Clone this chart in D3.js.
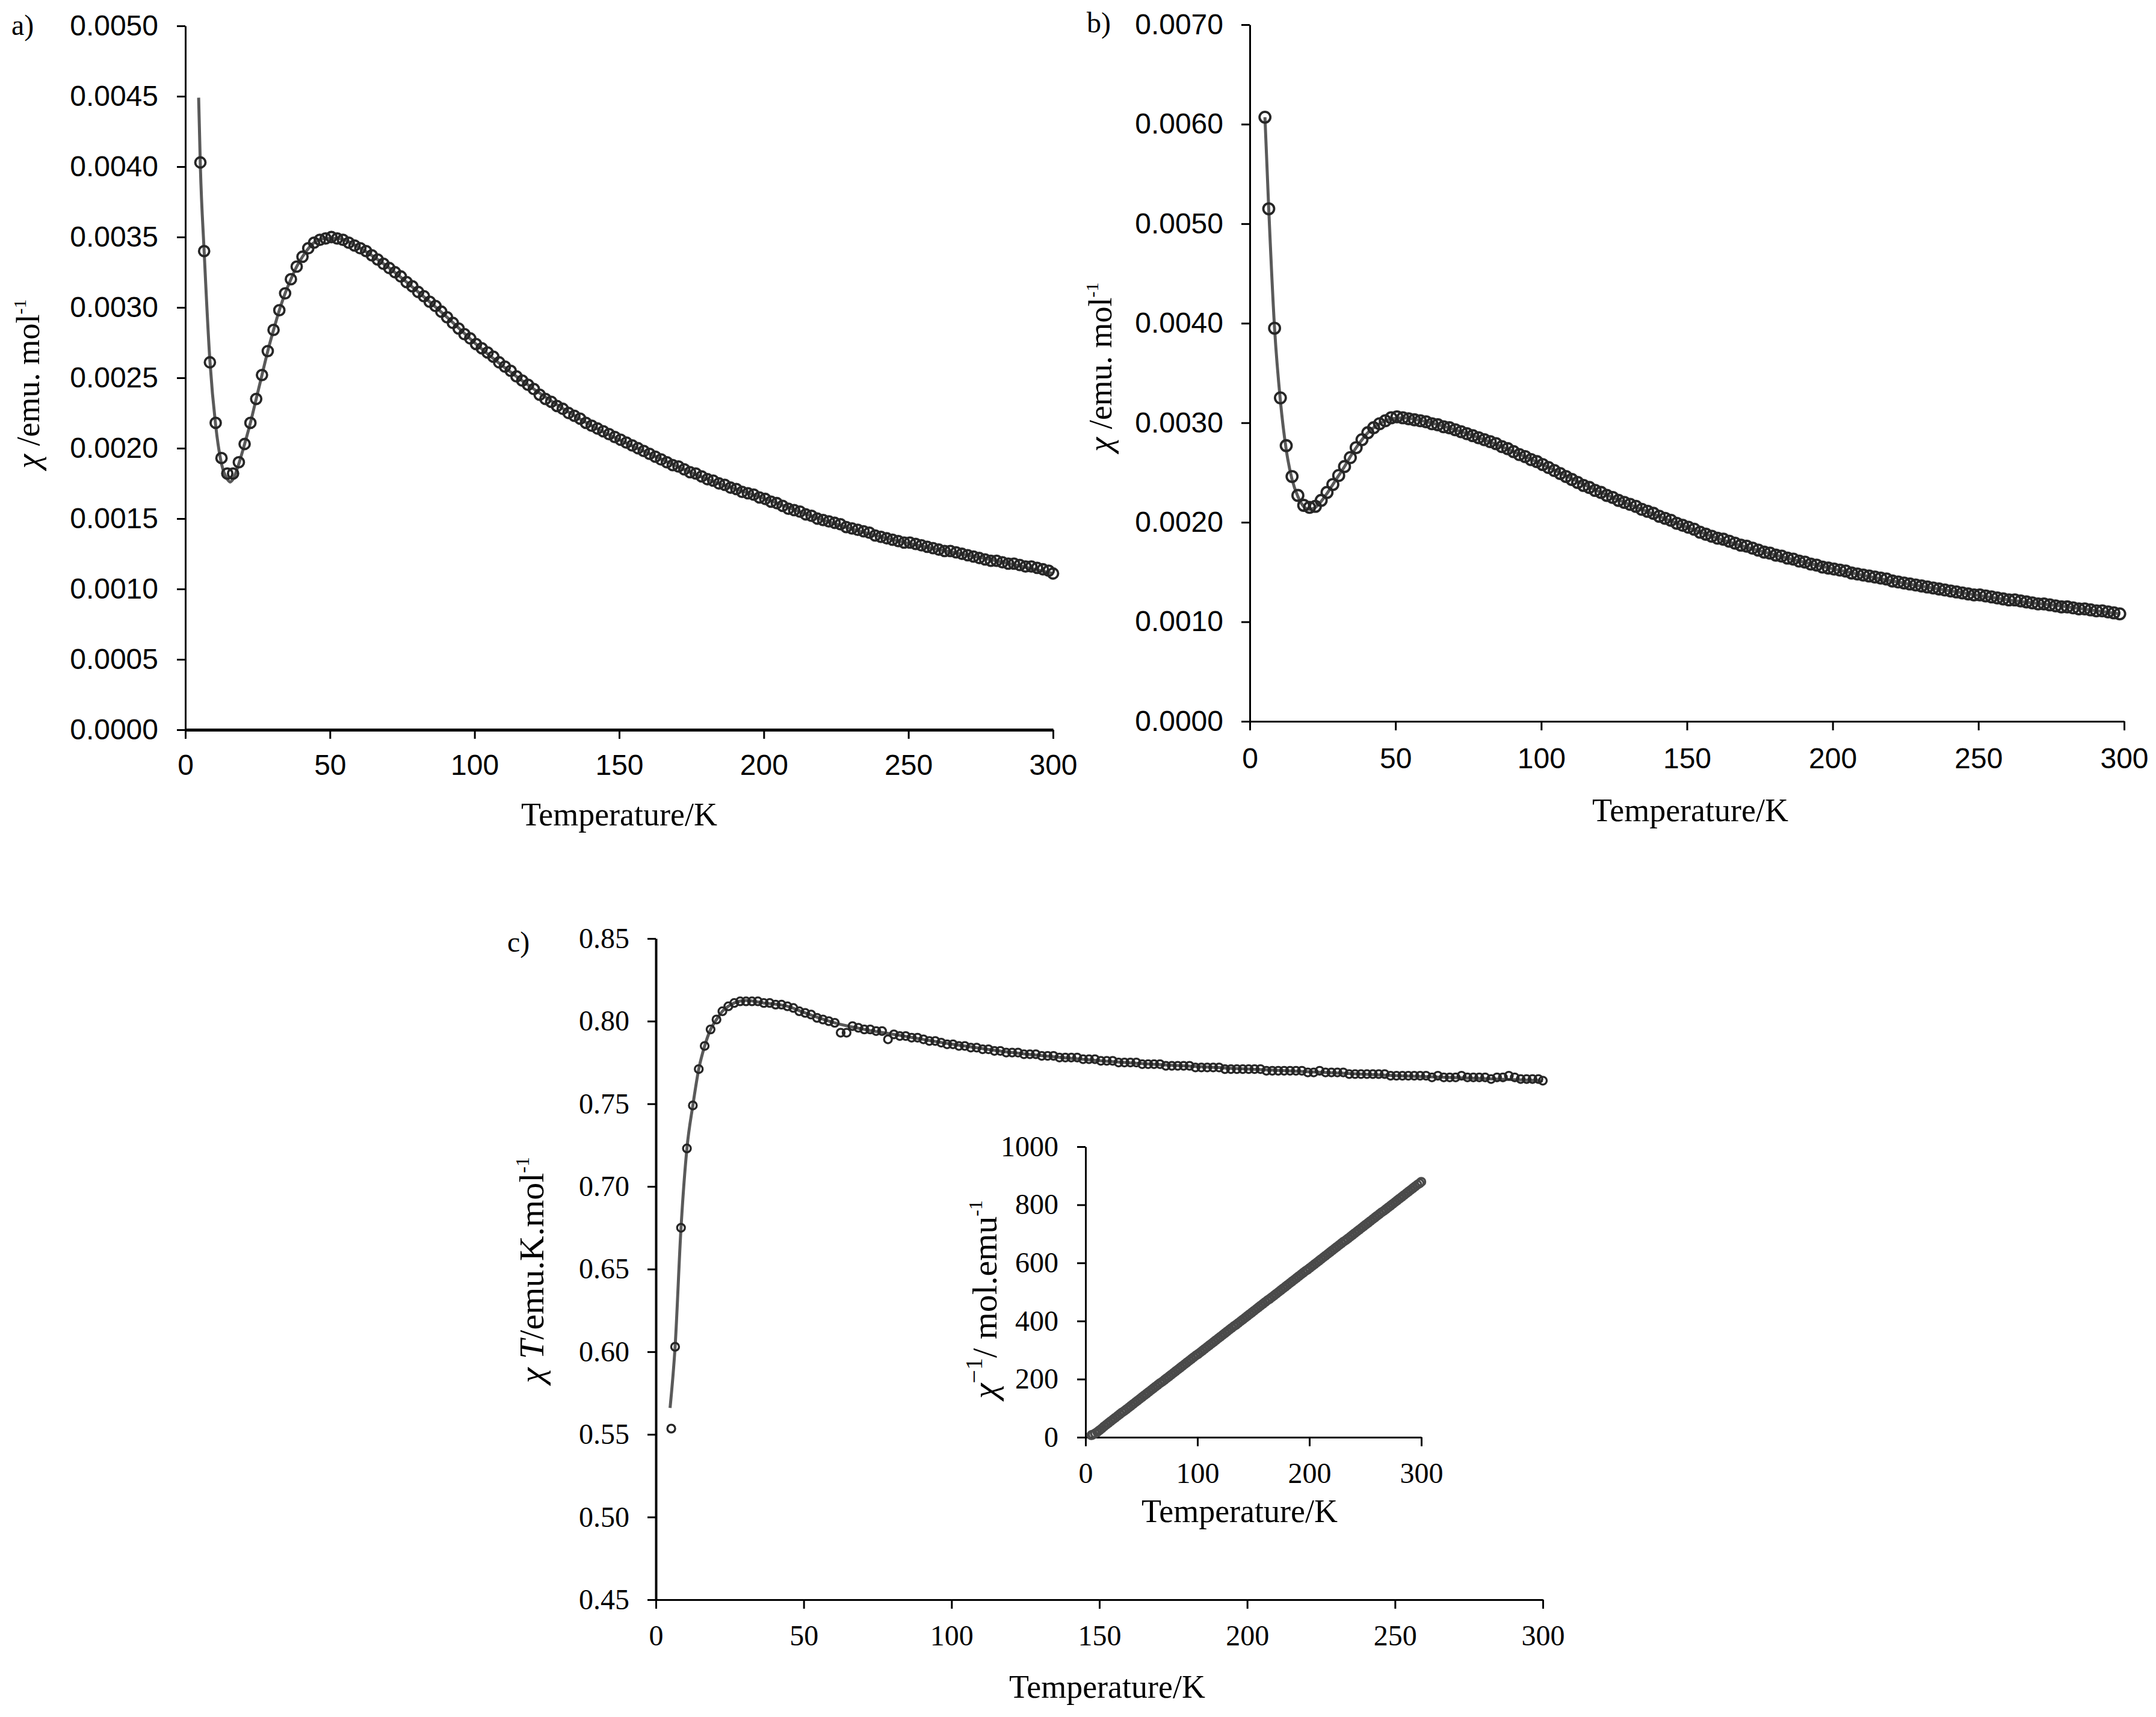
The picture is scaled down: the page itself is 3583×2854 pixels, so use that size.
<!DOCTYPE html>
<html>
<head>
<meta charset="utf-8">
<script src="https://cdn.jsdelivr.net/npm/d3@7"></script>
<style>
  html, body { margin: 0; padding: 0; background: #fff; }
  svg { display: block; }
</style>
</head>
<body>
<div id="chart"></div>
<script>
// measured temperatures (K), shared by all panels
var temps = [
  5.2, 6.5, 8.5, 10.5, 12.5, 14.5, 16.5, 18.5, 20.5, 22.5,
  24.5, 26.5, 28.5, 30.5, 32.5, 34.5, 36.5, 38.5, 40.5, 42.5,
  44.5, 46.5, 48.5, 50.5, 52.5, 54.5, 56.5, 58.5, 60.5, 62.5,
  64.5, 66.5, 68.5, 70.5, 72.5, 74.5, 76.5, 78.5, 80.5, 82.5,
  84.5, 86.5, 88.5, 90.5, 92.5, 94.5, 96.5, 98.5, 100.5, 102.5,
  104.5, 106.5, 108.5, 110.5, 112.5, 114.5, 116.5, 118.5, 120.5, 122.5,
  124.5, 126.5, 128.5, 130.5, 132.5, 134.5, 136.5, 138.5, 140.5, 142.5,
  144.5, 146.5, 148.5, 150.5, 152.5, 154.5, 156.5, 158.5, 160.5, 162.5,
  164.5, 166.5, 168.5, 170.5, 172.5, 174.5, 176.5, 178.5, 180.5, 182.5,
  184.5, 186.5, 188.5, 190.5, 192.5, 194.5, 196.5, 198.5, 200.5, 202.5,
  204.5, 206.5, 208.5, 210.5, 212.5, 214.5, 216.5, 218.5, 220.5, 222.5,
  224.5, 226.5, 228.5, 230.5, 232.5, 234.5, 236.5, 238.5, 240.5, 242.5,
  244.5, 246.5, 248.5, 250.5, 252.5, 254.5, 256.5, 258.5, 260.5, 262.5,
  264.5, 266.5, 268.5, 270.5, 272.5, 274.5, 276.5, 278.5, 280.5, 282.5,
  284.5, 286.5, 288.5, 290.5, 292.5, 294.5, 296.5, 298.5, 300
];

// panel a: chi (emu/mol)
var chiA = [
  0.00403, 0.00340, 0.00261, 0.00218, 0.00193, 0.00182, 0.00182, 0.00190, 0.00203, 0.00218,
  0.00235, 0.00252, 0.00269, 0.00284, 0.00298, 0.00310, 0.00320, 0.00329, 0.00336, 0.00342,
  0.00346, 0.00348, 0.00349, 0.00350, 0.00349, 0.00348, 0.00346, 0.00344, 0.00342, 0.00340,
  0.00337, 0.00334, 0.00331, 0.00328, 0.00325, 0.00322, 0.00318, 0.00315, 0.00311, 0.00308,
  0.00304, 0.00301, 0.00297, 0.00293, 0.00289, 0.00285, 0.00281, 0.00278, 0.00274, 0.00271,
  0.00268, 0.00265, 0.00261, 0.00258, 0.00255, 0.00251, 0.00248, 0.00245, 0.00242, 0.00238,
  0.00235, 0.00233, 0.00230, 0.00228, 0.00225, 0.00223, 0.00221, 0.00218, 0.00216, 0.00214,
  0.00212, 0.00210, 0.00208, 0.00206, 0.00204, 0.00202, 0.00200, 0.00198, 0.00196, 0.00194,
  0.00192, 0.00190, 0.00188, 0.00187, 0.00185, 0.00183, 0.00182, 0.00180, 0.00178, 0.00177,
  0.00175, 0.00174, 0.00172, 0.00171, 0.00169, 0.00168, 0.00167, 0.00165, 0.00164, 0.00162,
  0.00161, 0.00159, 0.00157, 0.00156, 0.00155, 0.00153, 0.00152, 0.00150, 0.00149, 0.00148,
  0.00147, 0.00146, 0.00144, 0.00143, 0.00142, 0.00141, 0.00140, 0.00138, 0.00137, 0.00136,
  0.00135, 0.00134, 0.00133, 0.00133, 0.00132, 0.00131, 0.00130, 0.00129, 0.00128, 0.00127,
  0.00127, 0.00126, 0.00125, 0.00124, 0.00123, 0.00122, 0.00121, 0.00120, 0.00120, 0.00119,
  0.00118, 0.00118, 0.00117, 0.00116, 0.00116, 0.00115, 0.00114, 0.00113, 0.00111
];
var fitTA = [4.6, 5.2, 6.5, 8.5, 10.5, 12.5, 14.5, 15.5, 16.5, 18.5, 20.5, 22.5, 24.5, 26.5, 28.5,
  30.5, 32.5, 34.5, 36.5, 38.5, 40.5, 44.5, 48.5, 52.5, 60.5, 70.5, 80.5, 90.5, 100.5,
  120.5, 140.5, 160.5, 180.5, 200.5, 220.5, 240.5, 260.5, 280.5, 300];
var fitA = [0.00449, 0.00400, 0.00340, 0.00262, 0.00216, 0.00189, 0.00178, 0.00176, 0.00178, 0.00189,
  0.00203, 0.00218, 0.00235, 0.00252, 0.00269, 0.00284, 0.00298, 0.00310, 0.00320, 0.00329,
  0.00336, 0.00346, 0.00349, 0.00349, 0.00342, 0.00328, 0.00311, 0.00293, 0.00274,
  0.00242, 0.00216, 0.00196, 0.00178, 0.00164, 0.00149, 0.00137, 0.00128, 0.00120, 0.00111];
var ticksA = [0, 0.0005, 0.0010, 0.0015, 0.0020, 0.0025, 0.0030, 0.0035, 0.0040, 0.0045, 0.0050];

// panel b: chi (emu/mol), last point at 298.5 K
var chiB = [
  0.00607, 0.00515, 0.00395, 0.00325, 0.00277, 0.00246, 0.00227, 0.00217, 0.00215, 0.00216,
  0.00222, 0.00230, 0.00238, 0.00247, 0.00256, 0.00265, 0.00275, 0.00283, 0.00290, 0.00295,
  0.00299, 0.00302, 0.00305, 0.00306, 0.00305, 0.00304, 0.00303, 0.00302, 0.00301, 0.00299,
  0.00298, 0.00296, 0.00295, 0.00293, 0.00291, 0.00289, 0.00287, 0.00285, 0.00283, 0.00281,
  0.00279, 0.00276, 0.00274, 0.00271, 0.00268, 0.00266, 0.00263, 0.00261, 0.00258, 0.00255,
  0.00252, 0.00249, 0.00246, 0.00243, 0.00240, 0.00237, 0.00235, 0.00232, 0.00230, 0.00227,
  0.00225, 0.00222, 0.00220, 0.00218, 0.00216, 0.00213, 0.00211, 0.00209, 0.00206, 0.00204,
  0.00202, 0.00199, 0.00197, 0.00195, 0.00193, 0.00190, 0.00188, 0.00186, 0.00184, 0.00183,
  0.00181, 0.00179, 0.00177, 0.00176, 0.00174, 0.00172, 0.00170, 0.00169, 0.00167, 0.00166,
  0.00164, 0.00163, 0.00161, 0.00160, 0.00158, 0.00157, 0.00155, 0.00154, 0.00153, 0.00152,
  0.00151, 0.00149, 0.00148, 0.00147, 0.00146, 0.00145, 0.00144, 0.00143, 0.00141, 0.00140,
  0.00139, 0.00138, 0.00137, 0.00136, 0.00135, 0.00134, 0.00133, 0.00132, 0.00131, 0.00130,
  0.00129, 0.00128, 0.00127, 0.00127, 0.00126, 0.00125, 0.00124, 0.00123, 0.00122, 0.00122,
  0.00121, 0.00120, 0.00119, 0.00118, 0.00118, 0.00117, 0.00116, 0.00115, 0.00115, 0.00114,
  0.00113, 0.00113, 0.00112, 0.00111, 0.00111, 0.00110, 0.00109, 0.00108
];
var fitTB = [5.2, 6.5, 8.5, 10.5, 12.5, 14.5, 16.5, 18.5, 20.5, 22.5, 24.5, 26.5, 28.5, 30.5,
  32.5, 34.5, 36.5, 38.5, 40.5, 44.5, 48.5, 52.5, 60.5, 70.5, 80.5, 90.5, 100.5,
  120.5, 140.5, 160.5, 180.5, 200.5, 220.5, 240.5, 260.5, 280.5, 298.5];
var fitB = [0.00607, 0.00515, 0.00395, 0.00322, 0.00273, 0.00243, 0.00226, 0.00216, 0.00213, 0.00215,
  0.00221, 0.00229, 0.00238, 0.00247, 0.00256, 0.00266, 0.00275, 0.00283, 0.00290, 0.00299,
  0.00304, 0.00305, 0.00301, 0.00293, 0.00283, 0.00271, 0.00258,
  0.00230, 0.00206, 0.00184, 0.00167, 0.00153, 0.00141, 0.00131, 0.00122, 0.00115, 0.00108];
var ticksB = [0, 0.0010, 0.0020, 0.0030, 0.0040, 0.0050, 0.0060, 0.0070];

// panel c: chi*T (emu K/mol)
var chiTC = [
  0.5535, 0.603, 0.675, 0.723, 0.749, 0.771, 0.785, 0.795, 0.801, 0.806,
  0.809, 0.811, 0.812, 0.812, 0.812, 0.812, 0.811, 0.811, 0.810, 0.810,
  0.809, 0.808, 0.806, 0.805, 0.804, 0.802, 0.801, 0.800, 0.799, 0.793,
  0.793, 0.797, 0.796, 0.795, 0.795, 0.794, 0.794, 0.789, 0.792, 0.791,
  0.791, 0.790, 0.790, 0.789, 0.788, 0.788, 0.787, 0.786, 0.786, 0.785,
  0.785, 0.784, 0.784, 0.783, 0.783, 0.782, 0.782, 0.781, 0.781, 0.781,
  0.780, 0.780, 0.780, 0.779, 0.779, 0.779, 0.778, 0.778, 0.778, 0.778,
  0.777, 0.777, 0.777, 0.776, 0.776, 0.776, 0.775, 0.775, 0.775, 0.775,
  0.774, 0.774, 0.774, 0.774, 0.773, 0.773, 0.773, 0.773, 0.773, 0.772,
  0.772, 0.772, 0.772, 0.772, 0.771, 0.771, 0.771, 0.771, 0.771, 0.771,
  0.771, 0.770, 0.770, 0.770, 0.770, 0.770, 0.770, 0.770, 0.769, 0.769,
  0.770, 0.769, 0.769, 0.769, 0.769, 0.768, 0.768, 0.768, 0.768, 0.768,
  0.768, 0.768, 0.767, 0.767, 0.767, 0.767, 0.767, 0.767, 0.767, 0.766,
  0.767, 0.766, 0.766, 0.766, 0.767, 0.766, 0.766, 0.766, 0.766, 0.765,
  0.766, 0.766, 0.767, 0.766, 0.765, 0.765, 0.765, 0.765, 0.764
];
var fitTC = [4.8, 6.5, 8.5, 10.5, 12.5, 14.5, 16.5, 18.5, 20.5, 22.5, 24.5, 26.5, 30.5, 36.5,
  44.5, 50.5, 60.5, 70.5, 80.5, 100.5, 120.5, 150.5, 200.5, 250.5, 300];
var fitC = [0.566, 0.603, 0.675, 0.723, 0.749, 0.771, 0.785, 0.795, 0.801, 0.806, 0.809, 0.811,
  0.8125, 0.811, 0.809, 0.805, 0.799, 0.795, 0.792, 0.786, 0.781, 0.776, 0.771, 0.767, 0.764];
var ticksC = [0.45, 0.50, 0.55, 0.60, 0.65, 0.70, 0.75, 0.80, 0.85];

// inset: 1/chi (mol/emu)
var invChi = [
  7, 9, 13, 18, 24, 30, 37, 43, 49, 55,
  61, 67, 73, 79, 85, 90, 96, 102, 108, 114,
  120, 126, 132, 138, 144, 150, 156, 162, 168, 174,
  180, 186, 191, 197, 203, 209, 215, 221, 227, 233,
  239, 245, 251, 257, 263, 269, 275, 281, 286, 292,
  298, 304, 310, 316, 322, 328, 334, 340, 346, 352,
  358, 364, 370, 376, 382, 387, 393, 399, 405, 411,
  417, 423, 429, 435, 441, 447, 453, 459, 465, 471,
  476, 482, 488, 494, 500, 506, 512, 518, 524, 530,
  536, 542, 548, 554, 560, 566, 572, 577, 583, 589,
  595, 601, 607, 613, 619, 625, 631, 637, 643, 649,
  655, 661, 667, 673, 678, 684, 690, 696, 702, 708,
  714, 720, 726, 732, 738, 744, 750, 756, 762, 768,
  774, 779, 785, 791, 797, 803, 809, 815, 821, 827,
  833, 839, 845, 851, 857, 863, 869, 874, 879
];
var ticksInsetY = [0, 200, 400, 600, 800, 1000];
var ticksInsetX = [0, 100, 200, 300];
var ticksT = [0, 50, 100, 150, 200, 250, 300];

var SANS = "'Liberation Sans', Arial, sans-serif";
var SERIF = "'Liberation Serif', 'Times New Roman', serif";

var svg = d3.select("#chart").append("svg")
    .attr("width", 3583)
    .attr("height", 2854)
    .attr("viewBox", "0 0 3583 2854");

function pairs(xs, ys) {
    return ys.map(function(v, i) { return [xs[i], v]; });
}

// one panel: axes, fit line, open circles
function panel(p) {
    var x = d3.scaleLinear().domain([0, 300]).range(p.xr);
    var y = d3.scaleLinear().domain(p.yd).range(p.yr);
    var g = svg.append("g");

    var ya = g.append("g")
        .attr("transform", "translate(" + p.xr[0] + ",0)")
        .call(d3.axisLeft(y).tickValues(p.yTicks).tickFormat(d3.format(p.yFmt))
            .tickSize(14).tickSizeOuter(0).tickPadding(p.padY));
    var xa = g.append("g")
        .attr("transform", "translate(0," + p.yr[0] + ")")
        .call(d3.axisBottom(x).tickValues(p.xTicks).tickFormat(d3.format("d"))
            .tickSize(15).tickSizeOuter(0).tickPadding(p.padX));

    [ya, xa].forEach(function(a) {
        a.selectAll("text").attr("font-family", p.tickFont).attr("font-size", 48).attr("fill", "#000");
        a.selectAll(".tick line").attr("stroke", "#000").attr("stroke-width", 3);
        a.select(".domain").attr("stroke", "#000");
    });
    ya.select(".domain").attr("stroke-width", p.wy);
    xa.select(".domain").attr("stroke-width", p.wx);

    if (p.fit) {
        g.append("path")
            .datum(p.fit)
            .attr("fill", "none")
            .attr("stroke", "#5a5a5a")
            .attr("stroke-width", 5)
            .attr("d", d3.line()
                .x(function(d) { return x(d[0]); })
                .y(function(d) { return y(d[1]); })
                .curve(d3.curveMonotoneX));
    }

    g.append("g")
        .selectAll("circle")
        .data(p.pts)
        .enter()
        .append("circle")
        .attr("cx", function(d) { return x(d[0]); })
        .attr("cy", function(d) { return y(d[1]); })
        .attr("r", p.r)
        .attr("fill", "none")
        .attr("stroke", p.ptColor)
        .attr("stroke-width", p.sw);
}

panel({
    xr: [308, 1750], yd: [0, 0.005], yr: [1213, 43],
    yTicks: ticksA, yFmt: ".4f", xTicks: ticksT, padY: 31, padX: 26,
    tickFont: SANS, wy: 3, wx: 5,
    pts: pairs(temps, chiA), fit: pairs(fitTA, fitA),
    r: 8.5, sw: 3.8, ptColor: "#262626"
});
panel({
    xr: [2077, 3530], yd: [0, 0.007], yr: [1199, 41],
    yTicks: ticksB, yFmt: ".4f", xTicks: ticksT, padY: 30, padX: 29,
    tickFont: SANS, wy: 3, wx: 3,
    pts: pairs(temps, chiB), fit: pairs(fitTB, fitB),
    r: 9, sw: 3.8, ptColor: "#262626"
});
panel({
    xr: [1090, 2564], yd: [0.45, 0.85], yr: [2659, 1560],
    yTicks: ticksC, yFmt: ".2f", xTicks: ticksT, padY: 30, padX: 27,
    tickFont: SERIF, wy: 4, wx: 3,
    pts: pairs(temps, chiTC), fit: pairs(fitTC, fitC),
    r: 6.5, sw: 3.3, ptColor: "#262626"
});
panel({
    xr: [1804, 2362], yd: [0, 1000], yr: [2389, 1906],
    yTicks: ticksInsetY, yFmt: "d", xTicks: ticksInsetX, padY: 31, padX: 27,
    tickFont: SERIF, wy: 3, wx: 3,
    pts: pairs(temps, invChi), fit: null,
    r: 6.5, sw: 3.5, ptColor: "#4a4a4a"
});

// panel letters
[["a)", 19, 58], ["b)", 1806, 54], ["c)", 843, 1582]].forEach(function(l) {
    svg.append("text").attr("x", l[1]).attr("y", l[2])
        .attr("font-family", SERIF).attr("font-size", 48).text(l[0]);
});

// x titles
[[1029, 1372], [2809, 1365], [1840, 2822], [2060, 2530]].forEach(function(t) {
    svg.append("text").attr("x", t[0]).attr("y", t[1])
        .attr("text-anchor", "middle")
        .attr("font-family", SERIF).attr("font-size", 54)
        .text("Temperature/K");
});

// y titles (rotated)
function yTitle(cx, cy, size, parts) {
    var t = svg.append("text")
        .attr("transform", "translate(" + cx + "," + cy + ") rotate(-90)")
        .attr("text-anchor", "middle")
        .attr("font-family", SERIF).attr("font-size", size);
    parts.forEach(function(p) {
        var s = t.append("tspan").text(p.s);
        if (p.it) s.attr("font-style", "italic");
        if (p.fs) s.attr("font-size", p.fs);
        if (p.dy) s.attr("dy", p.dy);
    });
}
var chiUnit = [{ s: "\u03c7", it: true }, { s: " /emu. mol" }, { s: "-1", fs: 30, dy: -22 }];
yTitle(65, 638, 54, chiUnit);
yTitle(1847, 610, 54, chiUnit);
yTitle(903, 2111, 58, [{ s: "\u03c7", it: true }, { s: " " }, { s: "T", it: true },
    { s: "/emu.K.mol" }, { s: "-1", fs: 32, dy: -24 }]);
yTitle(1656, 2160, 58, [{ s: "\u03c7", it: true }, { s: "\u22121", fs: 40, dy: -24 },
    { s: "/ mol.emu", dy: 24 }, { s: "-1", fs: 32, dy: -24 }]);
</script>
</body>
</html>
